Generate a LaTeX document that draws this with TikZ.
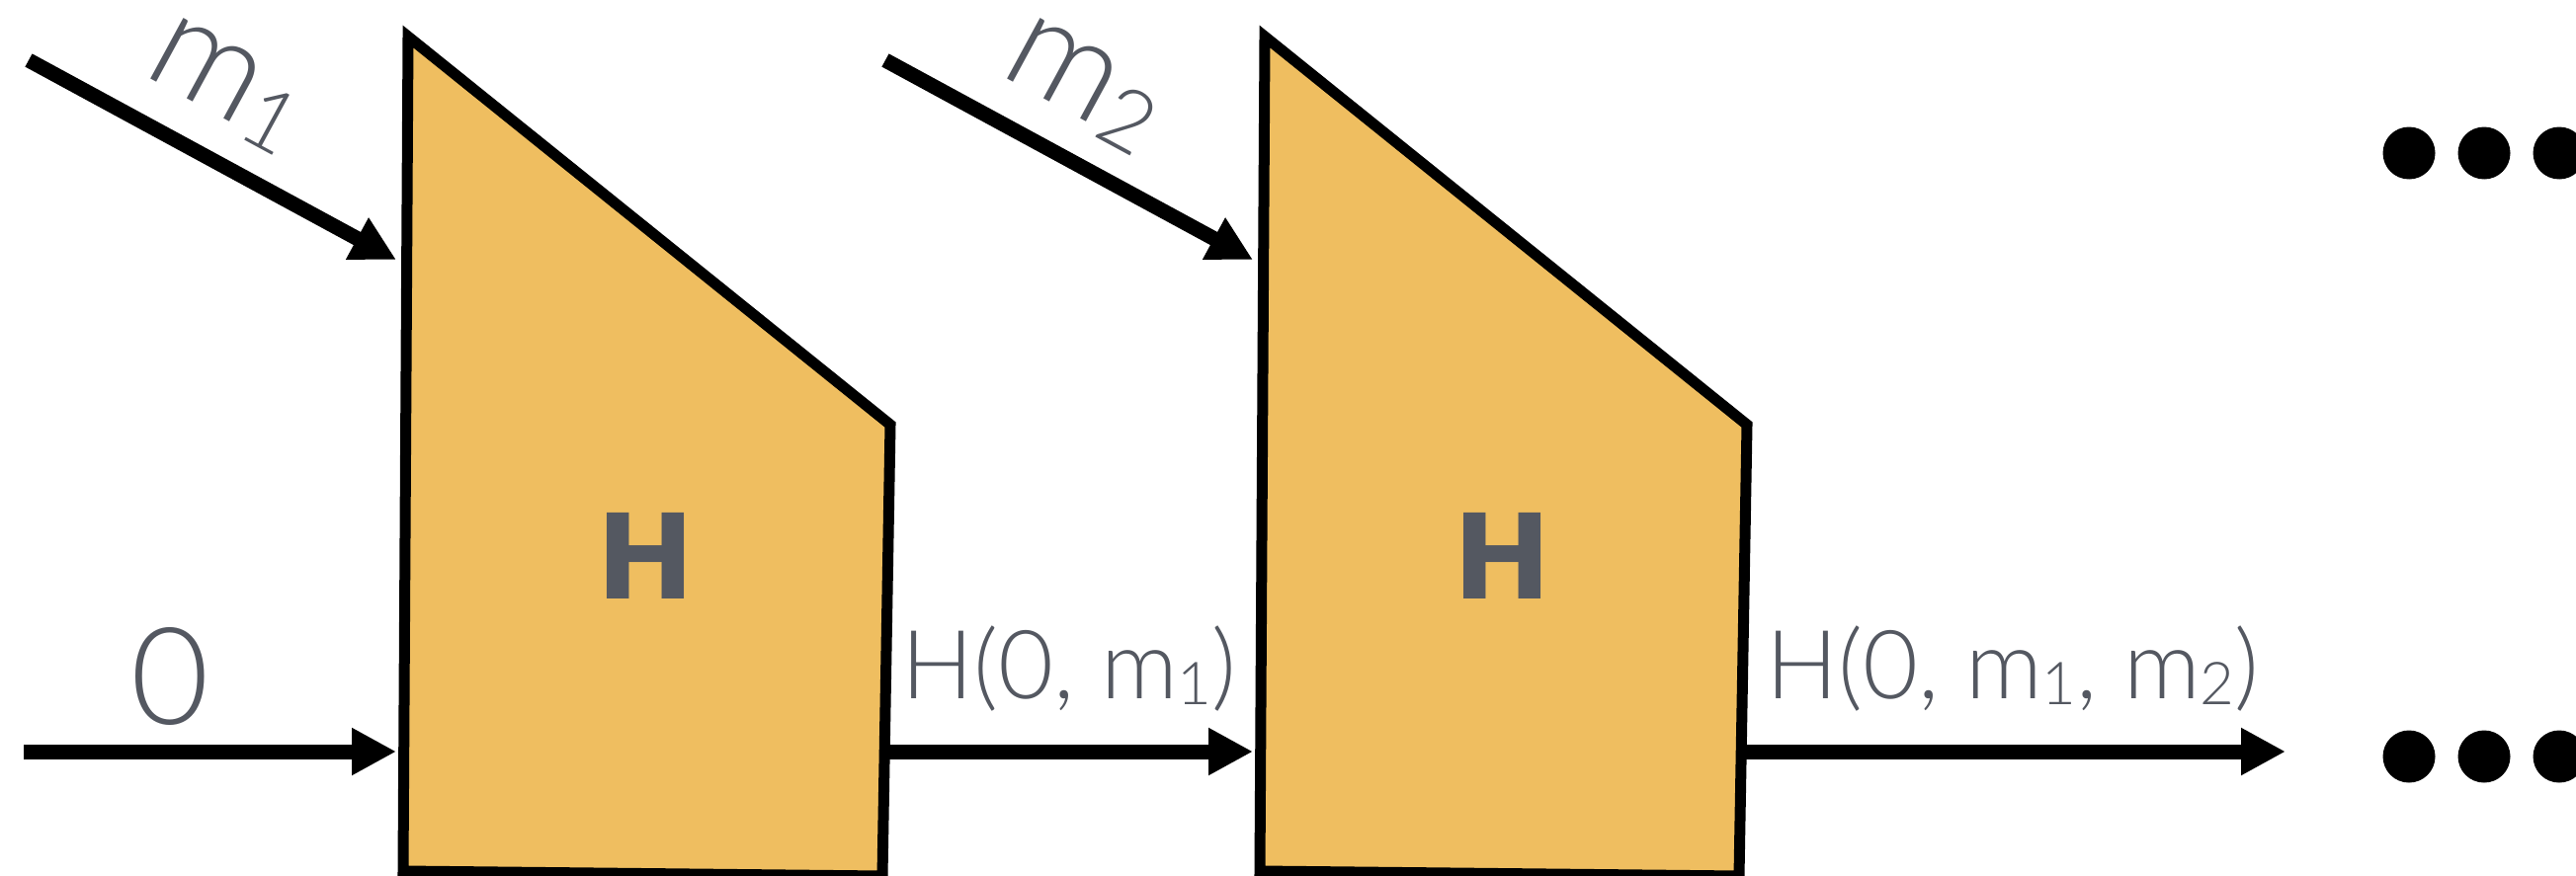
\documentclass[tikz,border=0pt]{standalone}
\usepackage{fontspec}
\usetikzlibrary{arrows.meta}
\newfontfamily\lightfont{Lato Light}
\newfontfamily\heavyfont{DejaVu Sans}
\definecolor{Mustard}{HTML}{EFBE60}
\definecolor{Slate}{HTML}{545861}
\newcommand{\low}[1]{\raisebox{-.07em}{\scalebox{.62}{#1}}}
\begin{document}
\begin{tikzpicture}[>={Triangle[length=.45cm,width=.45cm]},every node/.style={text=Slate,inner sep=0pt},stage/.style={draw=black,fill=Mustard,line width=.11cm},flow/.style={->,line width=.15cm},hlabel/.style={font=\heavyfont\bfseries\fontsize{34}{34}\selectfont},msg/.style={font=\lightfont\fontsize{40}{40}\selectfont,anchor=base west,rotate=-28.5,text height=.55em,text depth=.15em},state/.style={font=\lightfont\fontsize{27.5}{27.5}\selectfont,anchor=base west},dot/.style={circle,fill=black,minimum size=.53cm}]
\useasboundingbox (0,0) rectangle (26.07,-8.86);
\newcommand{\hstage}[3]{\begin{scope}[xshift=#2cm]
\draw[stage] (4.13,-.37)--(9.01,-4.30)--(8.93,-8.87)--(4.08,-8.82)--cycle;
\node[hlabel](#1h) at (6.53,-5.63){H};
\coordinate (#1in) at (4.01,-7.61);\coordinate (#1out) at (8.96,-7.61);
\coordinate (#1top) at (4.01,-2.63);\coordinate (#1src) at (.29,-.61);
\node[msg](#1m) at (1.42,-.74){m\low{#3}};
\end{scope}
\draw[flow](#1src)--(#1top);}
\hstage{s1}{0}{1}
\hstage{s2}{8.67}{2}
\coordinate (start) at (.24,-7.61);
\coordinate (stop) at (23.13,-7.61);
\draw[flow](start)--(s1in);
\draw[flow](s1out)--(s2in);
\draw[flow](s2out)--(stop);
\node[font=\lightfont\fontsize{39}{39}\selectfont,anchor=base](zero) at (1.72,-7.33){0};
\node[state](h1) at (9.12,-7.07){H(0, m\low{1})};
\node[state](h2) at (17.87,-7.07){H(0, m\low{1}, m\low{2})};
\foreach \i/\x in {1/24.38,2/25.14,3/25.90}{\node[dot](up\i) at (\x,-1.55){};\node[dot](low\i) at (\x,-7.66){};}
\end{tikzpicture}
\end{document}
